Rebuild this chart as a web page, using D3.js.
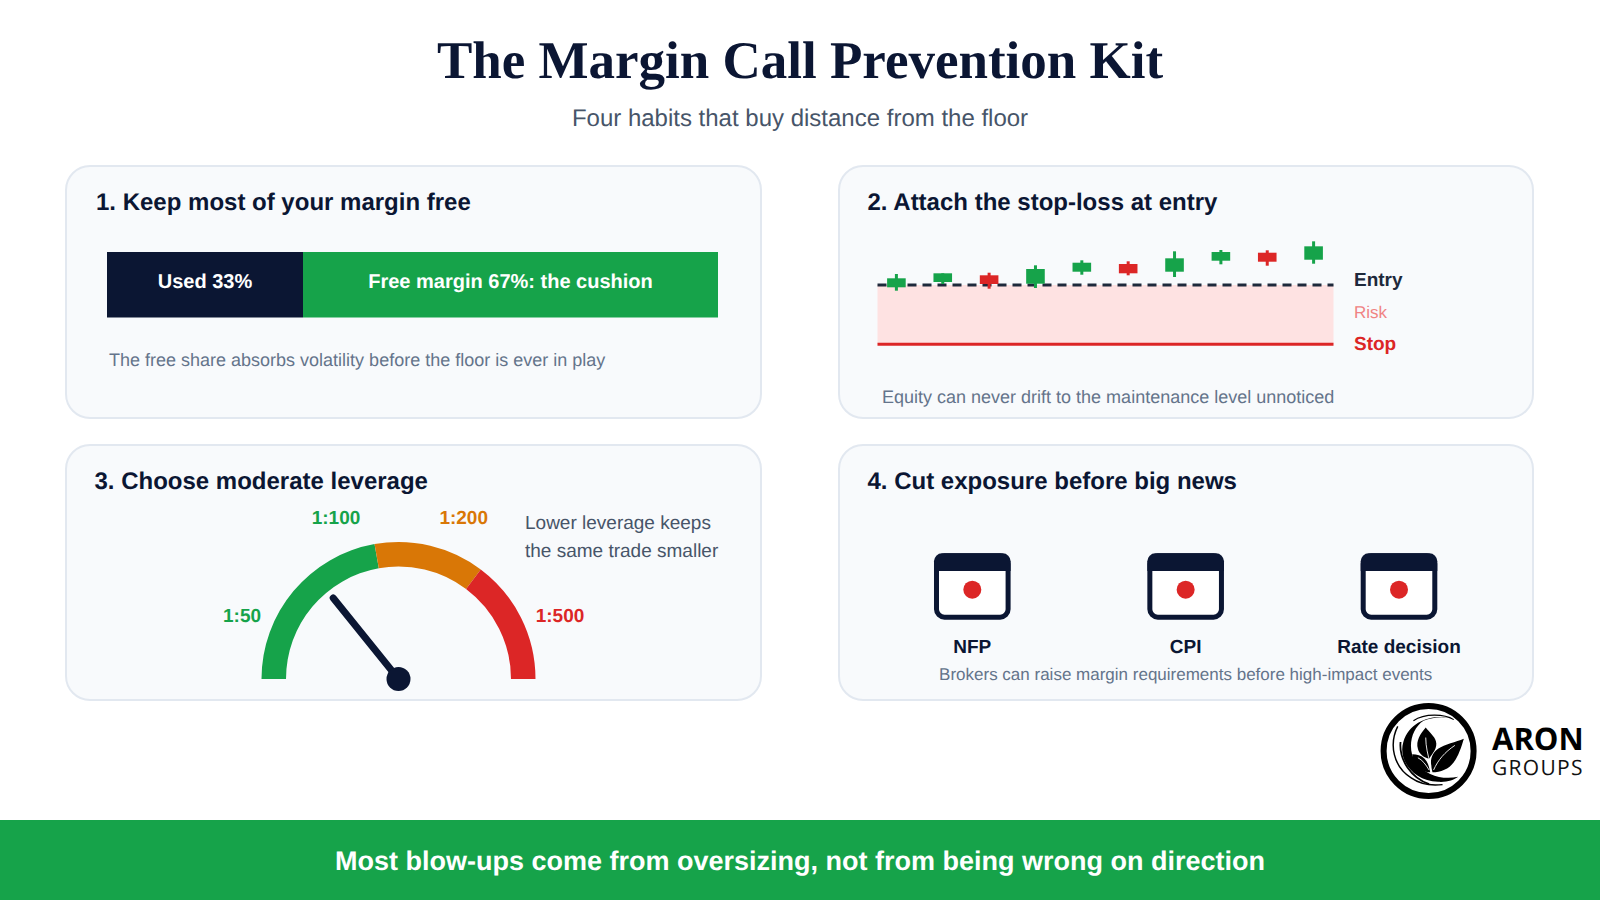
<!DOCTYPE html>
<html><head><meta charset="utf-8">
<script src="https://cdnjs.cloudflare.com/ajax/libs/d3/7.8.5/d3.min.js"></script>
<style>html,body{margin:0;padding:0;background:#fff}svg{display:block}text{font-family:"Liberation Sans",Arial,sans-serif;text-rendering:geometricPrecision}</style>
</head><body><svg id="c" width="1600" height="900"></svg>
<script>
const titleText = "The Margin Call Prevention Kit";
const subtitleText = "Four habits that buy distance from the floor";
const cardTitles = ["1. Keep most of your margin free","2. Attach the stop-loss at entry","3. Choose moderate leverage","4. Cut exposure before big news"];
const barLabels = ["Used 33%","Free margin 67%: the cushion"];
const barShares = [32.08,67.92];
const barColors = ["#0b1633","#16a34a"];
const candleOpen  = [97.7,103,109.7,101.3,113.3,121,113.3,124.3,132.3,125.3];
const candleClose = [106.7,111.7,101,116,122.3,111.7,126.7,133,123.3,138.7];
const candleHigh  = [111,111.7,112.3,119.7,124.7,123.7,133.7,135,134.7,143.7];
const candleLow   = [94.3,101,96.3,97,110.3,109.7,108,120.7,119.3,121.3];
const entryPrice = 100, stopPrice = 40.67;
const levelLabels = ["Entry","Risk","Stop"];
const gaugeStops = [0,0.444,0.705,1];
const gaugeColors = ["#16a34a","#d97706","#dc2626"];
const gaugeLabels = ["1:50","1:100","1:200","1:500"];
const gaugeLabelColors = ["#16a34a","#16a34a","#d97706","#dc2626"];
const needleValue = 0.284;
const newsEvents = ["NFP","CPI","Rate decision"];
const notes = ["The free share absorbs volatility before the floor is ever in play","Equity can never drift to the maintenance level unnoticed","Brokers can raise margin requirements before high-impact events"];
const sideText = ["Lower leverage keeps","the same trade smaller"];
const bannerText = "Most blow-ups come from oversizing, not from being wrong on direction";
const ink="#0b1633";

const svg=d3.select("#c");
function txt(s,x,y,size,fill,opt={}){
  return svg.append("text").attr("x",x).attr("y",y).attr("font-size",size).attr("fill",fill)
    .attr("font-weight",opt.bold?700:400).attr("text-anchor",opt.anchor||"start")
    .style("font-family",opt.family||null).text(s);
}
txt(titleText,800,77.5,53,ink,{bold:true,anchor:"middle",family:'"Liberation Serif",serif'});
txt(subtitleText,800,125.5,24,"#475569",{anchor:"middle"});

// cards
const cards=[[66,166,695,252],[839,166,694,252],[66,445,695,255],[839,445,694,255]];
svg.selectAll("rect.card").data(cards).join("rect").attr("class","card")
 .attr("x",d=>d[0]).attr("y",d=>d[1]).attr("width",d=>d[2]).attr("height",d=>d[3]).attr("rx",24)
 .attr("fill","#f8fafc").attr("stroke","#e2e8f0").attr("stroke-width",2);
const titlePos=[[96,210],[867.5,210],[94.5,489],[867.5,489]];
cardTitles.forEach((t,i)=>txt(t,titlePos[i][0],titlePos[i][1],24,ink,{bold:true}));

// card 1
const xBar=d3.scaleLinear().domain([0,100]).range([107,718]);
let cum=0;
barShares.forEach((v,i)=>{
  const x0=xBar(cum),x1=xBar(cum+v);cum+=v;
  svg.append("rect").attr("x",x0).attr("y",252).attr("width",x1-x0).attr("height",65.5).attr("fill",barColors[i]);
  txt(barLabels[i],(x0+x1)/2,288,20,"#fff",{bold:true,anchor:"middle"});
});
txt(notes[0],109,365.5,18,"#64748b");

// card 2
const yP=d3.scaleLinear().domain([stopPrice,entryPrice]).range([344.3,285]);
const xC=d3.scalePoint().domain(d3.range(candleOpen.length)).range([896.4,1313.6]);
svg.append("rect").attr("x",877.5).attr("width",456).attr("y",yP(entryPrice)).attr("height",yP(stopPrice)-yP(entryPrice)).attr("fill","#fee2e2");
svg.append("line").attr("x1",877.5).attr("x2",1333.5).attr("y1",yP(entryPrice)).attr("y2",yP(entryPrice)).attr("stroke","#1e293b").attr("stroke-width",3).attr("stroke-dasharray","9 6");
svg.append("line").attr("x1",877.5).attr("x2",1333.5).attr("y1",yP(stopPrice)).attr("y2",yP(stopPrice)).attr("stroke","#dc2626").attr("stroke-width",3);
candleOpen.forEach((o,i)=>{
  const c=candleClose[i],col=c>=o?"#16a34a":"#dc2626",x=xC(i);
  svg.append("line").attr("x1",x).attr("x2",x).attr("y1",yP(candleHigh[i])).attr("y2",yP(candleLow[i])).attr("stroke",col).attr("stroke-width",3);
  svg.append("rect").attr("x",x-9.3).attr("width",18.6).attr("y",yP(Math.max(o,c))).attr("height",Math.abs(yP(o)-yP(c))).attr("fill",col);
});
txt(levelLabels[0],1354,286,19,"#1e293b",{bold:true});
txt(levelLabels[1],1354,317.5,17,"#f08383");
txt(levelLabels[2],1354,349.5,19,"#dc2626",{bold:true});
txt(notes[1],882,403,18,"#64748b");

// card 3
const cx=398.5,cy=679;
const ang=d3.scaleLinear().domain([0,1]).range([-Math.PI/2,Math.PI/2]);
const arc=d3.arc().innerRadius(112.5).outerRadius(137);
const g=svg.append("g").attr("transform",`translate(${cx},${cy})`);
gaugeColors.forEach((col,i)=>g.append("path").attr("d",arc({startAngle:ang(gaugeStops[i]),endAngle:ang(gaugeStops[i+1])})).attr("fill",col));
const a=ang(needleValue);
g.append("line").attr("x1",0).attr("y1",0).attr("x2",104*Math.sin(a)).attr("y2",-104*Math.cos(a)).attr("stroke",ink).attr("stroke-width",7).attr("stroke-linecap","round");
g.append("circle").attr("r",12).attr("fill",ink);
const glPos=[[242,622],[336,523.5],[463.7,523.5],[560,622]];
gaugeLabels.forEach((t,i)=>txt(t,glPos[i][0],glPos[i][1],19,gaugeLabelColors[i],{bold:true,anchor:"middle"}));
sideText.forEach((t,i)=>txt(t,525,529+i*28,19,"#475569"));

// card 4
const xN=d3.scalePoint().domain(newsEvents).range([972.3,1399]);
newsEvents.forEach(n=>{
  const x=xN(n);
  const e=svg.append("g").attr("transform",`translate(${x},0)`);
  e.append("rect").attr("x",-35.8).attr("y",555.8).attr("width",71.6).attr("height",61.4).attr("rx",8).attr("fill","#fff").attr("stroke",ink).attr("stroke-width",5);
  e.append("path").attr("d","M-38.3,571 V561.3 a8,8 0 0 1 8,-8 H30.3 a8,8 0 0 1 8,8 V571 Z").attr("fill",ink);
  e.append("circle").attr("cy",589.7).attr("r",9).attr("fill","#dc2626");
  txt(n,x,653,19,ink,{bold:true,anchor:"middle"});
});
txt(notes[2],1185.7,680,17,"#64748b",{anchor:"middle"});

// logo
const L0=svg.append("g").attr("transform","translate(1428.6,751)");
L0.append("circle").attr("r",45).attr("fill","#fff").attr("stroke","#000").attr("stroke-width",6);
const L=L0.append("g").attr("transform","translate(0.5,0) scale(1.12)");
L.append("path").attr("d","M20,-29 C5,-33 -17,-28 -23,-8 C-28,8 -14,27 8,27.5 C16,28 22,26 26,23 C12,26 -3,22 -12,10 C-20,-2 -16,-20 -5,-27 C3,-30 12,-31 20,-29 Z").attr("fill","#000");
L.append("path").attr("d","M-28,-22 C-36,-6 -32,14 -16,24 C-6,31 4,31 12,30").attr("fill","none").attr("stroke","#000").attr("stroke-width",1.3);
L.append("path").attr("d","M-25.5,-8 C-27,8 -16,24 0,29.5").attr("fill","none").attr("stroke","#000").attr("stroke-width",1.6);
L.append("path").attr("d","M-14,-27 C-4,-34 14,-33 22,-28").attr("fill","none").attr("stroke","#000").attr("stroke-width",1);
const leaves=["M-3,-21 C-8,-15 -12,-9 -10,-2 C-9,3 -4,6 0,7 C3,2 8,-3 6,-9 C5,-13 0,-17 -3,-21 Z",
 "M31,-11 C24,-8 14,-6 8,-2 C2,2 1,9 2,13 C2,16 3,18 3,19 C10,19 18,16 22,10 C26,5 29,-4 31,-11 Z",
 "M-15,3 C-15,9 -12,13 -8,16 C-5,18 -2,19 1,19 C0,14 -1,10 -4,7 C-7,4 -11,3 -15,3 Z"];
leaves.forEach(d=>L.append("path").attr("d",d).attr("fill","#000"));
["M23,-5 C14,1 8,8 4,17","M-3,-12 C-3,-4 -1,4 1,11","M-10,6 C-6,8 -3,12 0,17"].forEach(d=>L.append("path").attr("d",d).attr("fill","none").attr("stroke","#fff").attr("stroke-width",0.8));
const logoText=svg.append("text").style("font-family",'"Open Sans",sans-serif');
logoText.append("tspan").attr("x",1492).attr("y",749.5).attr("font-size",31).attr("font-weight",700).attr("fill","#000").text("ARON");
logoText.append("tspan").attr("x",1492).attr("y",775).attr("font-size",21).attr("letter-spacing",1.3).attr("fill","#111").text("GROUPS");

// banner
svg.append("rect").attr("x",0).attr("y",820).attr("width",1600).attr("height",80).attr("fill","#16a34a");
txt(bannerText,800,870,27,"#fff",{bold:true,anchor:"middle"});
</script></body></html>
